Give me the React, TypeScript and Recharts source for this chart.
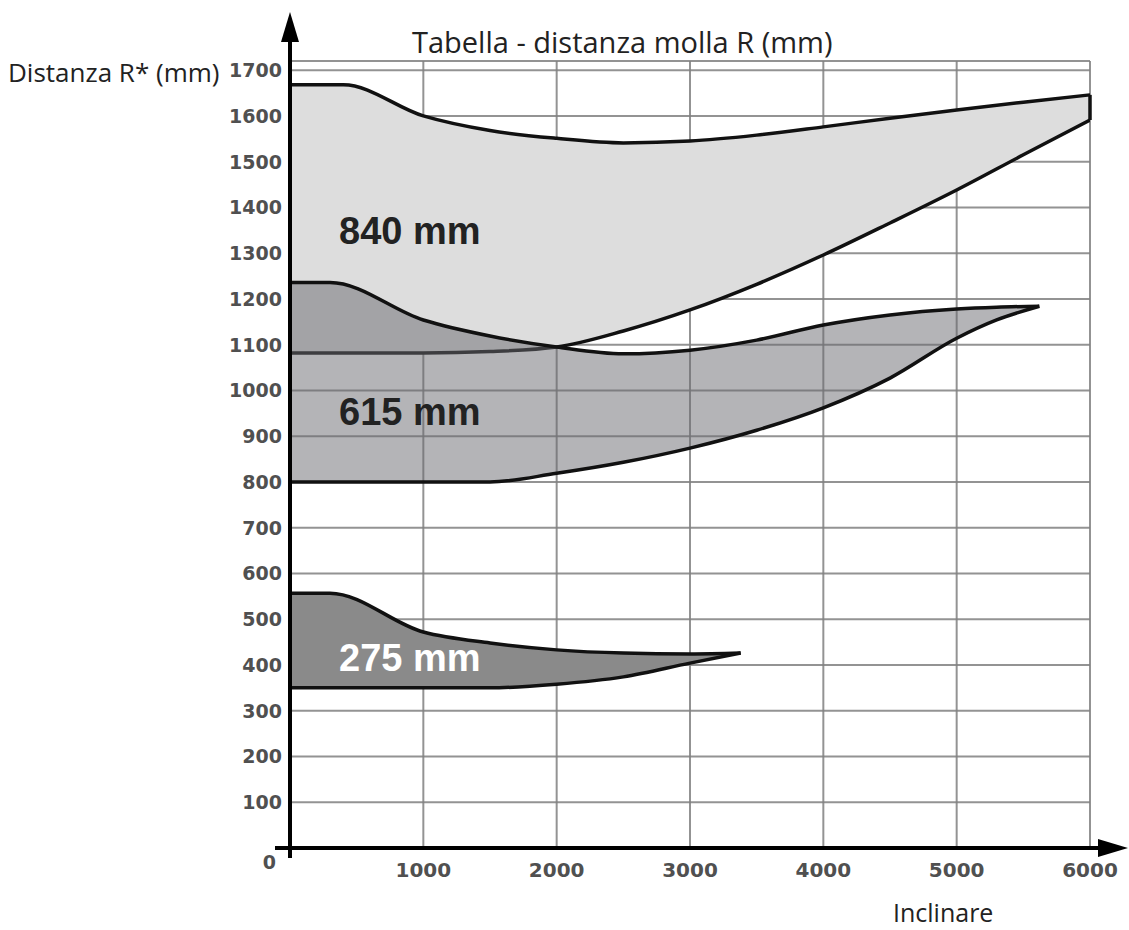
import { ComposedChart, Area, XAxis, YAxis, CartesianGrid, ReferenceLine, ReferenceDot } from "recharts";

const xTicks = [1000, 2000, 3000, 4000, 5000, 6000];
const yTicks = [0, 100, 200, 300, 400, 500, 600, 700, 800, 900, 1000, 1100, 1200, 1300, 1400, 1500, 1600, 1700];

// 840 mm band
const x840 = [0, 400, 1000, 1500, 2000, 2500, 3000, 3500, 4000, 4500, 5000, 5500, 6000];
const top840 = [1668, 1668, 1600, 1568, 1551, 1541, 1545, 1558, 1576, 1595, 1613, 1630, 1646];
const bottom840 = [1082, 1082, 1082, 1085, 1095, 1130, 1176, 1232, 1296, 1366, 1438, 1515, 1591];

// 615 mm band
const x615 = [0, 300, 1000, 1500, 2000, 2500, 3000, 3500, 4000, 4500, 5000, 5300, 5620];
const top615 = [1236, 1236, 1154, 1119, 1095, 1080, 1088, 1110, 1143, 1165, 1178, 1182, 1184];
const bottom615 = [800, 800, 800, 800, 819, 843, 874, 913, 962, 1027, 1114, 1154, 1184];

// 275 mm band
const x275 = [0, 300, 1000, 1500, 2000, 2500, 3000, 3380];
const top275 = [557, 557, 472, 448, 433, 426, 424, 426];
const bottom275 = [350, 350, 350, 350, 358, 374, 404, 426];

const bandLabels = ["840 mm", "615 mm", "275 mm"];

const toRange = (xs: number[], lo: number[], hi: number[]) =>
  xs.map((x, i) => ({ x, range: [lo[i], hi[i]] }));

const data840 = toRange(x840, bottom840, top840);
const data615 = toRange(x615, bottom615, top615);
const data275 = toRange(x275, bottom275, top275);

const tickFont = { fontFamily: "DejaVu Sans", fontWeight: "bold", fontSize: 19, fill: "#505050" };
const labelFont = { fontFamily: "Liberation Sans", fontWeight: "bold", fontSize: 38 };
const textFont = "Open Sans";

const YTick = (props: any) => {
  const { x, y, payload } = props;
  const zero = payload.value === 0;
  return (
    <text x={zero ? x - 6 : x} y={zero ? y + 14 : y} textAnchor="end" dominantBaseline="central" {...tickFont}>
      {payload.value}
    </text>
  );
};

const XTick = (props: any) => {
  const { x, y, payload } = props;
  return (
    <text x={x} y={y + 14} textAnchor="middle" dominantBaseline="central" {...tickFont} fontSize={20}>
      {payload.value}
    </text>
  );
};

const App = () => {
  const last = data840[data840.length - 1];
  return (
    <div style={{ position: "absolute", left: 0, top: 0, width: 1129, height: 930, background: "#fff" }}>
      <ComposedChart width={1129} height={930} margin={{ top: 61, right: 39, bottom: 42, left: 210 }}>
        <XAxis
          type="number"
          dataKey="x"
          domain={[0, 6000]}
          ticks={xTicks}
          axisLine={false}
          tickLine={false}
          tick={<XTick />}
          height={40}
          allowDataOverflow
        />
        <YAxis
          type="number"
          domain={[0, 1720]}
          ticks={yTicks}
          axisLine={false}
          tickLine={false}
          tick={<YTick />}
          width={80}
          allowDataOverflow
        />
        <Area
          data={data840}
          dataKey="range"
          type="monotone"
          fill="#dddddd"
          fillOpacity={1}
          stroke="#111"
          strokeWidth={3.5}
          isAnimationActive={false}
          dot={false}
          activeDot={false}
        />
        <Area
          data={data615}
          dataKey="range"
          type="monotone"
          fill="#69696f"
          fillOpacity={0.5}
          stroke="#111"
          strokeWidth={3.5}
          isAnimationActive={false}
          dot={false}
          activeDot={false}
        />
        <Area
          data={data275}
          dataKey="range"
          type="monotone"
          fill="#8a8a8a"
          fillOpacity={1}
          stroke="#111"
          strokeWidth={3.5}
          isAnimationActive={false}
          dot={false}
          activeDot={false}
        />
        <CartesianGrid stroke="#808080" strokeWidth={2} strokeOpacity={0.85} />
        <ReferenceLine
          segment={[{ x: last.x, y: last.range[0] }, { x: last.x, y: last.range[1] }]}
          stroke="#111"
          strokeWidth={3.5}
        />
        <ReferenceDot x={360} y={1350} r={1} fill="none" stroke="none"
          label={{ value: bandLabels[0], position: "right", offset: 0, fill: "#222", ...labelFont }} />
        <ReferenceDot x={360} y={953} r={1} fill="none" stroke="none"
          label={{ value: bandLabels[1], position: "right", offset: 0, fill: "#222", ...labelFont }} />
        <ReferenceDot x={360} y={417} r={1} fill="none" stroke="none"
          label={{ value: bandLabels[2], position: "right", offset: 0, fill: "#fff", ...labelFont }} />
      </ComposedChart>
      <svg width={1129} height={930} style={{ position: "absolute", left: 0, top: 0, pointerEvents: "none" }}>
        <line x1={290} y1={858} x2={290} y2={38} stroke="#000" strokeWidth={4} />
        <polygon points="290,12 281,42 299,42" fill="#000" />
        <line x1={275} y1={848} x2={1102} y2={848} stroke="#000" strokeWidth={4} />
        <polygon points="1128,848 1098,839 1098,857" fill="#000" />
        <text x={412} y={41} dominantBaseline="central" fontFamily={textFont} fontSize={29} fill="#222">
          Tabella - distanza molla R (mm)
        </text>
        <text x={8} y={72} dominantBaseline="central" fontFamily={textFont} fontSize={26} fill="#222">
          Distanza R* (mm)
        </text>
        <text x={893} y={912} dominantBaseline="central" fontFamily={textFont} fontSize={25} fill="#222">
          Inclinare
        </text>
      </svg>
    </div>
  );
};

export default App;
